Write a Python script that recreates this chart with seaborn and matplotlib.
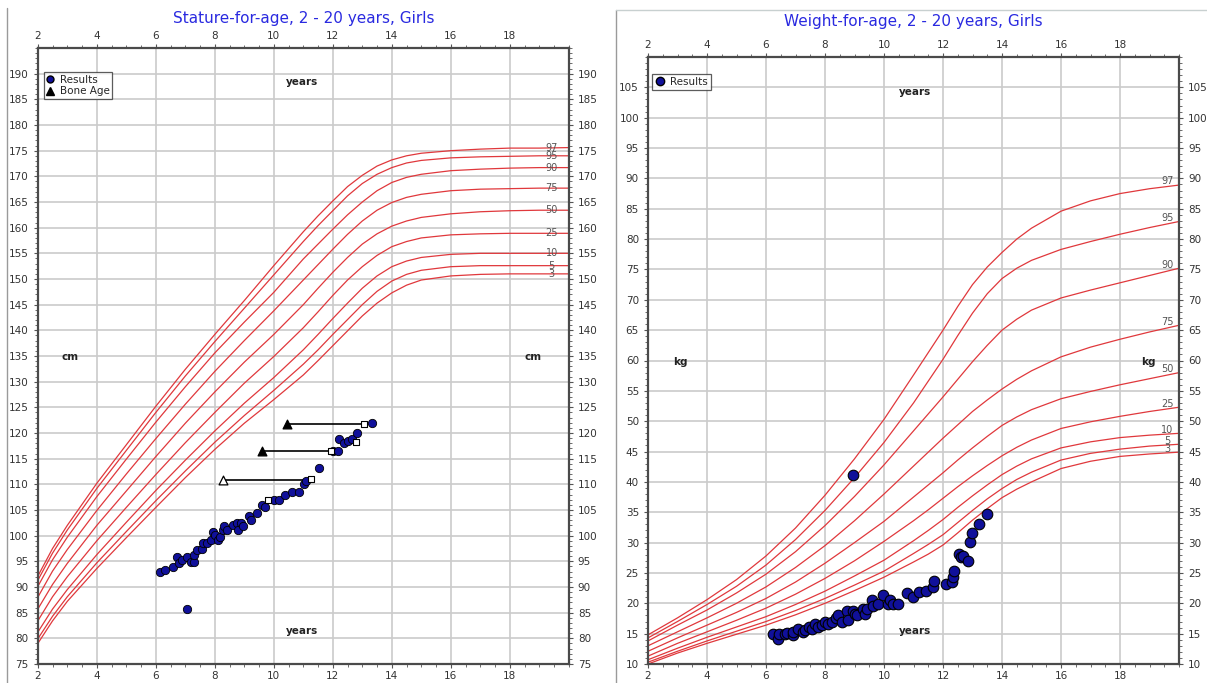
import numpy as np
import pandas as pd
import matplotlib
matplotlib.use("Agg")
import matplotlib.pyplot as plt
from matplotlib.ticker import MultipleLocator
from matplotlib.lines import Line2D
import seaborn as sns

# ---------------- data ----------------
pct_names = ["97", "95", "90", "75", "50", "25", "10", "5", "3"]
stature_ages_curve = [2, 2.5, 3, 4, 5, 6, 7, 8, 9, 10, 11, 11.5, 12, 12.5, 13, 13.5, 14, 14.5, 15, 16, 17, 18, 19, 20]
weight_ages_curve = [2, 3, 4, 5, 6, 7, 8, 9, 10, 11, 11.5, 12, 12.5, 13, 13.5, 14, 14.5, 15, 16, 17, 18, 19, 20]

stature_p97 = [92.1, 97.5, 102.0, 110.2, 117.7, 125.2, 132.4, 139.2, 145.8, 152.6, 159.2, 162.3, 165.2, 168.0, 170.2, 172.0, 173.2, 174.0, 174.5, 175.0, 175.3, 175.5, 175.5, 175.6]
stature_p95 = [91.3, 96.6, 101.1, 109.2, 116.6, 124.0, 131.1, 137.8, 144.3, 150.8, 157.3, 160.4, 163.3, 166.2, 168.6, 170.4, 171.7, 172.6, 173.1, 173.6, 173.8, 173.9, 174.0, 174.0]
stature_p90 = [90.1, 95.3, 99.7, 107.6, 114.9, 122.1, 129.0, 135.6, 141.6, 147.4, 153.9, 156.8, 159.7, 162.5, 165.0, 167.2, 168.8, 169.8, 170.4, 171.1, 171.4, 171.6, 171.7, 171.7]
stature_p75 = [88.0, 93.1, 97.3, 104.9, 112.0, 118.9, 125.6, 132.0, 138.0, 143.8, 149.8, 152.8, 155.8, 158.7, 161.3, 163.4, 164.9, 165.9, 166.5, 167.2, 167.5, 167.6, 167.7, 167.7]
stature_p50 = [85.7, 90.5, 94.6, 102.0, 108.7, 115.4, 121.9, 128.0, 133.8, 139.2, 145.0, 148.2, 151.3, 154.2, 156.8, 158.8, 160.3, 161.3, 162.0, 162.7, 163.1, 163.3, 163.4, 163.4]
stature_p25 = [83.4, 88.1, 92.0, 99.0, 105.5, 111.9, 118.1, 124.0, 129.7, 134.9, 140.5, 143.6, 146.8, 149.8, 152.4, 154.6, 156.3, 157.3, 158.0, 158.6, 158.8, 158.9, 158.9, 158.9]
stature_p10 = [81.2, 85.7, 89.5, 96.3, 102.6, 108.8, 114.7, 120.4, 125.8, 130.8, 136.2, 139.2, 142.3, 145.3, 148.2, 150.6, 152.4, 153.5, 154.2, 154.8, 155.0, 155.0, 155.0, 155.0]
stature_p5 = [79.9, 84.3, 88.1, 94.7, 100.8, 106.8, 112.6, 118.2, 123.4, 128.3, 133.4, 136.2, 139.2, 142.1, 145.0, 147.6, 149.6, 150.9, 151.7, 152.4, 152.6, 152.6, 152.6, 152.6]
stature_p3 = [79.0, 83.4, 87.2, 93.6, 99.6, 105.5, 111.3, 116.8, 121.9, 126.5, 131.3, 134.1, 137.0, 139.9, 142.8, 145.3, 147.3, 148.8, 149.8, 150.6, 150.9, 151.0, 151.0, 151.0]

weight_p97 = [14.8, 17.6, 20.6, 23.9, 27.8, 32.4, 37.8, 43.8, 50.3, 57.6, 61.3, 65.0, 68.9, 72.5, 75.4, 77.8, 80.0, 81.8, 84.6, 86.3, 87.5, 88.3, 88.9]
weight_p95 = [14.3, 17.0, 19.8, 22.8, 26.3, 30.5, 35.3, 40.7, 46.5, 53.0, 56.6, 60.2, 64.1, 67.8, 71.0, 73.5, 75.2, 76.5, 78.3, 79.6, 80.8, 81.9, 82.9]
weight_p90 = [13.8, 16.4, 18.9, 21.7, 24.8, 28.5, 32.8, 37.6, 42.8, 48.4, 51.2, 54.0, 56.9, 59.8, 62.5, 65.0, 66.8, 68.3, 70.3, 71.6, 72.8, 74.0, 75.2]
weight_p75 = [13.0, 15.3, 17.6, 20.0, 22.7, 25.9, 29.5, 33.6, 38.0, 42.6, 44.9, 47.2, 49.4, 51.6, 53.5, 55.3, 56.9, 58.3, 60.6, 62.2, 63.5, 64.7, 65.8]
weight_p50 = [12.1, 14.3, 16.4, 18.5, 20.8, 23.5, 26.6, 30.0, 33.5, 37.5, 39.5, 41.5, 43.6, 45.6, 47.5, 49.3, 50.7, 51.9, 53.7, 54.9, 56.0, 57.0, 58.0]
weight_p25 = [11.3, 13.4, 15.3, 17.2, 19.2, 21.5, 24.1, 27.0, 30.2, 33.6, 35.4, 37.3, 39.2, 41.0, 42.7, 44.3, 45.7, 46.9, 48.8, 49.9, 50.8, 51.6, 52.3]
weight_p10 = [10.7, 12.6, 14.4, 16.1, 17.8, 19.8, 22.0, 24.5, 27.1, 30.3, 32.0, 33.8, 35.8, 37.7, 39.5, 41.2, 42.6, 43.8, 45.6, 46.6, 47.3, 47.7, 48.0]
weight_p5 = [10.3, 12.1, 13.8, 15.4, 17.0, 18.8, 20.8, 23.0, 25.3, 28.2, 29.7, 31.3, 33.3, 35.3, 37.2, 38.9, 40.4, 41.6, 43.6, 44.7, 45.4, 45.9, 46.2]
weight_p3 = [10.0, 11.8, 13.4, 14.9, 16.4, 18.1, 20.0, 22.1, 24.3, 26.8, 28.1, 29.6, 31.6, 33.7, 35.6, 37.4, 38.8, 40.0, 42.2, 43.4, 44.2, 44.6, 44.9]

# stature results (age in years, height cm)
stature_ages = [6.14, 6.31, 6.57, 6.73, 6.80, 6.88, 7.05, 7.18, 7.29, 7.29, 7.41, 7.56, 7.59, 7.73, 7.86, 7.95,
                8.01, 8.12, 8.18, 8.27, 8.31, 8.42, 8.61, 8.76, 8.80, 8.88, 8.95, 9.17, 9.23, 9.44, 9.59, 9.70,
                10.02, 10.19, 10.38, 10.63, 10.86, 11.03, 11.08, 11.54, 12.00, 12.19, 12.20, 12.39, 12.53, 12.64,
                12.81, 13.32, 7.05]
stature_values = [92.9, 93.3, 93.8, 95.9, 94.6, 95.3, 95.9, 94.9, 94.9, 96.2, 97.2, 97.5, 98.5, 98.5, 99.2, 100.8,
                  100.1, 99.2, 99.8, 101.1, 101.9, 101.1, 102.1, 102.4, 101.1, 102.5, 101.9, 103.8, 103.1, 104.5, 106.0, 105.5,
                  107.0, 107.0, 107.9, 108.5, 108.5, 110.1, 110.7, 113.1, 116.4, 116.5, 118.9, 118.0, 118.5, 118.8,
                  120.0, 122.0, 85.8]
# hollow square markers
square_ages = [9.81, 11.25, 11.93, 12.78, 13.06]
square_values = [107.0, 111.0, 116.4, 118.3, 121.8]
# bone age
bone_ages = [10.44, 9.59, 8.29]
bone_chron_ages = [13.06, 11.93, 11.25]
bone_values = [121.8, 116.4, 110.9]
bone_filled = [True, True, False]

# weight results
weight_ages = [6.23, 6.42, 6.45, 6.64, 6.72, 6.90, 6.93, 7.10, 7.26, 7.32, 7.47, 7.55, 7.66, 7.77, 7.89,
               8.00, 8.11, 8.23, 8.37, 8.45, 8.57, 8.74, 8.79, 8.94, 9.02, 9.09, 9.30, 9.36, 9.41, 9.58,
               9.62, 9.81, 9.96, 10.15, 10.20, 10.32, 10.48, 10.77, 10.99, 11.20, 11.42, 11.67, 11.71, 12.10,
               12.29, 12.35, 12.37, 12.55, 12.61, 12.69, 12.86, 12.92, 12.97, 13.23, 13.48, 8.96]
weight_values = [15.0, 14.2, 15.0, 15.0, 15.1, 14.7, 15.25, 15.8, 15.25, 15.6, 16.1, 15.8, 16.6, 16.1, 16.35,
                 16.9, 16.6, 16.9, 17.5, 18.0, 16.9, 18.8, 17.2, 18.8, 18.3, 18.0, 19.1, 18.3, 19.1, 20.5,
                 19.6, 19.9, 21.3, 19.9, 20.5, 19.9, 19.9, 21.7, 21.0, 21.8, 22.1, 22.65, 23.6, 23.1,
                 23.5, 24.3, 25.3, 28.1, 27.7, 27.8, 27.0, 30.05, 31.6, 33.0, 34.7, 41.1]

x_ticks = [2, 4, 6, 8, 10, 12, 14, 16, 18]

# ---------------- style ----------------
sns.set_theme(style="white")
plt.rcParams["font.family"] = ["DejaVu Sans"]

RED = "#e0383c"
BLUE = "#10109a"
TITLE_BLUE = "#2a2ae0"
TXT = "#333333"

fig = plt.figure(figsize=(12.07, 6.83), dpi=100)
W, H = 1207, 683


def px_axes(l, t, r, b):
    return fig.add_axes([l / W, 1 - b / H, (r - l) / W, (b - t) / H])


ax1 = px_axes(37.8, 48, 568.8, 664)
ax2 = px_axes(648, 57, 1179, 664)

# outer panel frames
fig.add_artist(Line2D([7 / W, 7 / W], [0, 1 - 8 / H], color="#9a9a9a", lw=1.0))
fig.add_artist(Line2D([616 / W, 616 / W], [0, 1 - 10 / H], color="#9a9a9a", lw=1.0))
fig.add_artist(Line2D([616 / W, 1], [1 - 10 / H, 1 - 10 / H], color="#c8d0d0", lw=1.0))


def make_long(ages, values_lists):
    rows = []
    for name, vals in zip(pct_names, values_lists):
        for a, v in zip(ages, vals):
            rows.append({"age": a, "value": v, "pct": name})
    return pd.DataFrame(rows)


stature_lists = [stature_p97, stature_p95, stature_p90, stature_p75, stature_p50,
                 stature_p25, stature_p10, stature_p5, stature_p3]
weight_lists = [weight_p97, weight_p95, weight_p90, weight_p75, weight_p50,
                weight_p25, weight_p10, weight_p5, weight_p3]
stature_df = make_long(stature_ages_curve, stature_lists)
weight_df = make_long(weight_ages_curve, weight_lists)


def style_axes(ax, ylo, yhi, yticks):
    ax.set_xlim(2, 20)
    ax.set_ylim(ylo, yhi)
    ax.set_xticks(x_ticks)
    ax.set_yticks(yticks)
    ax.xaxis.set_minor_locator(MultipleLocator(0.5))
    ax.yaxis.set_minor_locator(MultipleLocator(1))
    ax.grid(True, which="major", color="#cbcbcb", lw=1.2)
    ax.set_axisbelow(True)
    ax.tick_params(axis="both", which="both", direction="out", top=True, right=True,
                   bottom=True, left=True, labeltop=True, labelright=True,
                   labelbottom=True, labelleft=True, colors="#555555", labelcolor=TXT,
                   labelsize=7.5)
    ax.tick_params(which="major", length=3, width=0.8)
    ax.tick_params(which="minor", length=2, width=0.6)
    ax.tick_params(axis="x", pad=2)
    for s in ax.spines.values():
        s.set_color("#4a4a4a")
        s.set_linewidth(1.6)
    ax.set_xlabel("")
    ax.set_ylabel("")


# ---------------- left: stature ----------------
pal = {p: RED for p in pct_names}
sns.lineplot(data=stature_df, x="age", y="value", hue="pct", palette=pal, lw=0.9,
             legend=False, ax=ax1, sort=True)
for name, vals in zip(pct_names, stature_lists):
    ax1.text(19.42, vals[-1], name, fontsize=7, color="#555555", ha="center", va="center")

for ba, ca, v in zip(bone_ages, bone_chron_ages, bone_values):
    ax1.plot([ba, ca], [v, v], color="black", lw=1.2, zorder=3)
sns.scatterplot(x=stature_ages, y=stature_values, color=BLUE, edgecolor="black",
                linewidth=0.6, s=36, marker="o", ax=ax1, zorder=4)
sns.scatterplot(x=square_ages, y=square_values, color="white", edgecolor="black",
                linewidth=0.8, s=22, marker="s", ax=ax1, zorder=5)
for ba, v, f in zip(bone_ages, bone_values, bone_filled):
    ax1.scatter([ba], [v], marker="^", s=40, color="black" if f else "white",
                edgecolor="black", linewidth=0.9, zorder=5)

style_axes(ax1, 75, 195, list(range(75, 191, 5)))
ax1.set_title("Stature-for-age, 2 - 20 years, Girls", color=TITLE_BLUE, fontsize=11, pad=18)
ax1.text(10.95, 188.3, "years", fontsize=7.5, fontweight="bold", color="#222", ha="center", va="center")
ax1.text(10.95, 81.4, "years", fontsize=7.5, fontweight="bold", color="#222", ha="center", va="center")
ax1.text(3.1, 134.8, "cm", fontsize=7.5, fontweight="bold", color="#222", ha="center", va="center")
ax1.text(18.8, 134.8, "cm", fontsize=7.5, fontweight="bold", color="#222", ha="center", va="center")

h1 = [Line2D([], [], marker="o", ls="", color=BLUE, markeredgecolor="black", markersize=5),
      Line2D([], [], marker="^", ls="", color="black", markersize=6)]
leg1 = ax1.legend(h1, ["Results", "Bone Age"], loc="upper left", bbox_to_anchor=(0.011, 0.961),
                  fontsize=7.5, frameon=True, fancybox=False, edgecolor="#333333",
                  handlelength=0.8, handletextpad=0.5, borderpad=0.25, labelspacing=0.15,
                  borderaxespad=0.0)
leg1.get_frame().set_linewidth(0.9)

# ---------------- right: weight ----------------
sns.lineplot(data=weight_df, x="age", y="value", hue="pct", palette=pal, lw=0.9,
             legend=False, ax=ax2, sort=True)
for name, vals in zip(pct_names, weight_lists):
    ax2.text(19.6, vals[-1] + 0.6, name, fontsize=7, color="#555555", ha="center", va="center")

sns.scatterplot(x=weight_ages, y=weight_values, color=BLUE, edgecolor="black",
                linewidth=0.8, s=58, marker="o", ax=ax2, zorder=4)

style_axes(ax2, 10, 110, list(range(10, 106, 5)))
ax2.set_title("Weight-for-age, 2 - 20 years, Girls", color=TITLE_BLUE, fontsize=11, pad=22)
ax2.text(11.05, 104.2, "years", fontsize=7.5, fontweight="bold", color="#222", ha="center", va="center")
ax2.text(11.05, 15.4, "years", fontsize=7.5, fontweight="bold", color="#222", ha="center", va="center")
ax2.text(3.1, 59.8, "kg", fontsize=7.5, fontweight="bold", color="#222", ha="center", va="center")
ax2.text(18.95, 59.8, "kg", fontsize=7.5, fontweight="bold", color="#222", ha="center", va="center")

h2 = [Line2D([], [], marker="o", ls="", color=BLUE, markeredgecolor="black", markersize=6)]
leg2 = ax2.legend(h2, ["Results"], loc="upper left", bbox_to_anchor=(0.008, 0.972),
                  fontsize=7.5, frameon=True, fancybox=False, edgecolor="#333333",
                  handlelength=0.8, handletextpad=0.6, borderpad=0.3, borderaxespad=0.0)
leg2.get_frame().set_linewidth(0.9)

fig.savefig("out.png", dpi=100)
